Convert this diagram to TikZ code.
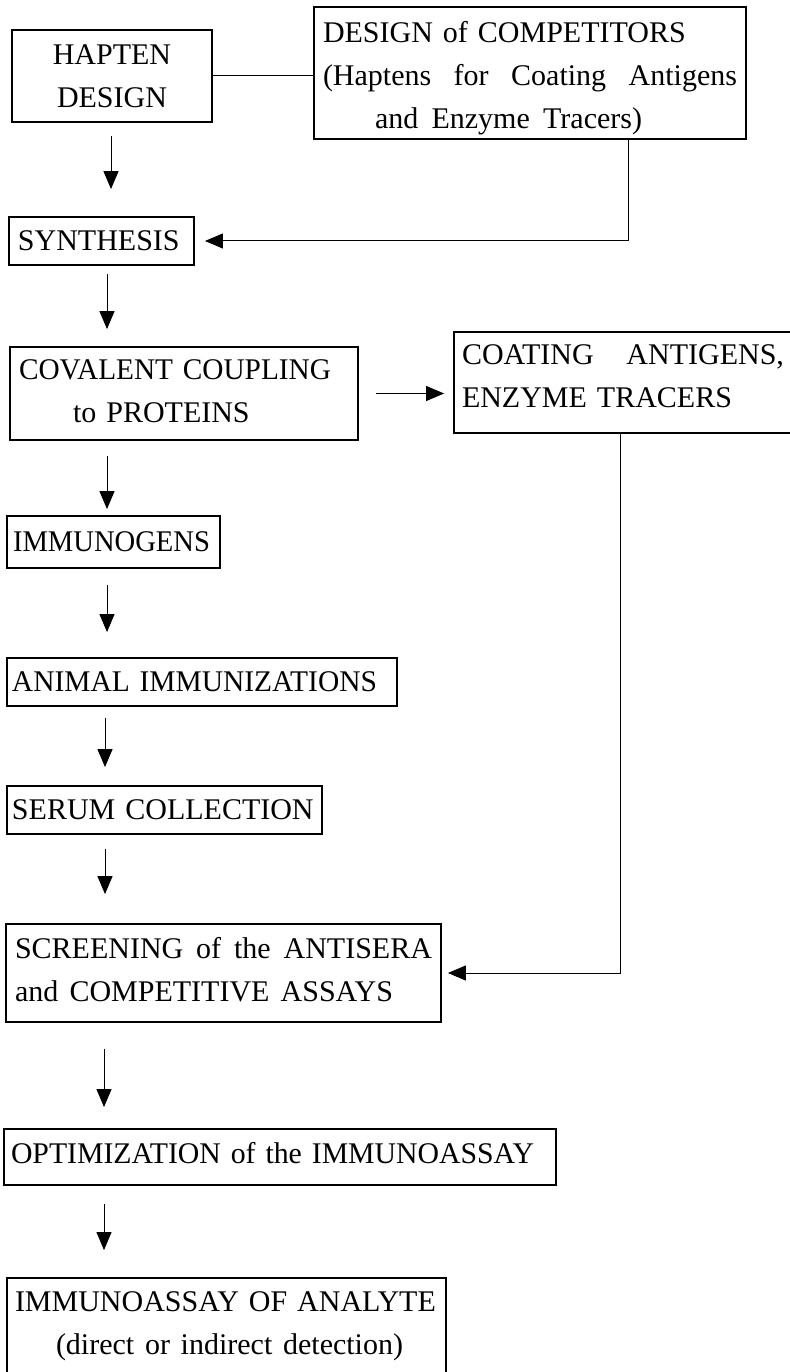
\documentclass[tikz,border=0pt]{standalone}
\usepackage{fontspec}
\usepackage{graphicx}
\setmainfont{Liberation Serif}
\usetikzlibrary{arrows.meta}
% a line stretched to a given width; \hfill marks where the extra space goes
\newcommand\spreadline[2]{\makebox[#1][l]{#2}}
% a line set narrower than its natural width
\newcommand\squeezeline[2]{\resizebox{#1}{\height}{#2}}
\begin{document}
\begin{tikzpicture}[x=1pt,y=-1pt,
  stagebox/.style={draw, line width=1.8pt, rectangle, inner xsep=0pt, inner ysep=0pt,
    align=left, font=\fontsize{30pt}{43pt}\selectfont},
  conn/.style={line width=1pt},
  arr/.style={conn, -{Triangle[length=18pt,width=15pt]}},
]
\useasboundingbox (0,0) rectangle (789,1372);

% stages of the workflow
\node[stagebox, text width=200pt, minimum height=92pt, align=center] (hapten) at (112,76)
  {HAPTEN\\DESIGN};
\node[stagebox, text width=432pt, minimum height=132pt] (competitors) at (530,73)
  {\hspace*{9pt}\rule{0pt}{32pt}DESIGN of COMPETITORS\\
   \hspace*{9pt}\spreadline{414pt}{(Haptens \hfill for \hfill Coating \hfill Antigens}\\
   \hspace*{61pt}\spreadline{267pt}{and \hfill Enzyme \hfill Tracers)}};
\node[stagebox, text width=185pt, minimum height=48pt] (synthesis) at (101.5,241)
  {\hspace*{9pt}SYNTHESIS};
\node[stagebox, text width=348pt, minimum height=93pt] (covalent) at (184,393.5)
  {\hspace*{9pt}\squeezeline{312pt}{COVALENT COUPLING}\\
   \hspace*{63pt}to PROTEINS\rule[-4pt]{0pt}{1pt}};
\node[stagebox, text width=338pt, minimum height=101pt] (coating) at (623,382.5)
  {\hspace*{8pt}\spreadline{322pt}{COATING \hfill ANTIGENS,}\\
   \hspace*{8pt}ENZYME TRACERS\rule[-12pt]{0pt}{1pt}};
\node[stagebox, text width=213pt, minimum height=52pt] (immunogens) at (113.5,542)
  {\hspace*{6pt}\squeezeline{197pt}{IMMUNOGENS}};
\node[stagebox, text width=390pt, minimum height=48pt] (animal) at (202,682)
  {\hspace*{5pt}\squeezeline{365pt}{ANIMAL IMMUNIZATIONS}};
\node[stagebox, text width=315pt, minimum height=48pt] (serum) at (164.5,810)
  {\hspace*{5pt}SERUM COLLECTION};
\node[stagebox, text width=435pt, minimum height=98pt] (screening) at (223.5,973)
  {\hspace*{9pt}\spreadline{417pt}{SCREENING \hfill of \hfill the \hfill ANTISERA}\\
   \hspace*{9pt}\spreadline{378pt}{and \hfill COMPETITIVE \hfill ASSAYS}\rule[-7pt]{0pt}{1pt}};
\node[stagebox, text width=552pt, minimum height=56pt] (optimization) at (280,1157)
  {\hspace*{7pt}\squeezeline{523pt}{OPTIMIZATION of the IMMUNOASSAY}\rule[-8pt]{0pt}{1pt}};
\node[stagebox, text width=439pt, minimum height=112pt] (immunoassay) at (226.5,1334)
  {\hspace*{8pt}IMMUNOASSAY OF ANALYTE\\
   \hspace*{49pt}\spreadline{347pt}{(direct \hfill or \hfill indirect \hfill detection)}\rule[-22pt]{0pt}{1pt}};

% columns of the vertical connectors
\coordinate (c1) at (111,0);
\coordinate (c2) at (107,0);
\coordinate (c3) at (105,0);
\coordinate (c4) at (104,0);
\coordinate (k1) at (628,0);
\coordinate (k2) at (620,0);

% connectors
\draw[conn] (hapten.east) -- (hapten.east -| competitors.west);
\draw[arr, shorten <=13pt, shorten >=27pt] (hapten.south -| c1) -- (synthesis.north -| c1);
\draw[arr, shorten >=10pt] (competitors.south -| k1) |- (synthesis.east);
\draw[arr, shorten <=8pt, shorten >=17pt] (synthesis.south -| c2) -- (covalent.north -| c2);
\draw[arr, shorten <=17pt, shorten >=9pt] (covalent.east) -- (covalent.east -| coating.west);
\draw[arr, shorten <=15pt, shorten >=6pt] (covalent.south -| c2) -- (immunogens.north -| c2);
\draw[arr, shorten <=16pt, shorten >=25pt] (immunogens.south -| c2) -- (animal.north -| c2);
\draw[arr, shorten <=11pt, shorten >=18pt] (animal.south -| c3) -- (serum.north -| c3);
\draw[arr, shorten <=14pt, shorten >=29pt] (serum.south -| c3) -- (screening.north -| c3);
\draw[arr, shorten >=6pt] (coating.south -| k2) |- (screening.east);
\draw[arr, shorten <=26pt, shorten >=21pt] (screening.south -| c4) -- (optimization.north -| c4);
\draw[arr, shorten <=18pt, shorten >=27pt] (optimization.south -| c4) -- (immunoassay.north -| c4);
\end{tikzpicture}
\end{document}
